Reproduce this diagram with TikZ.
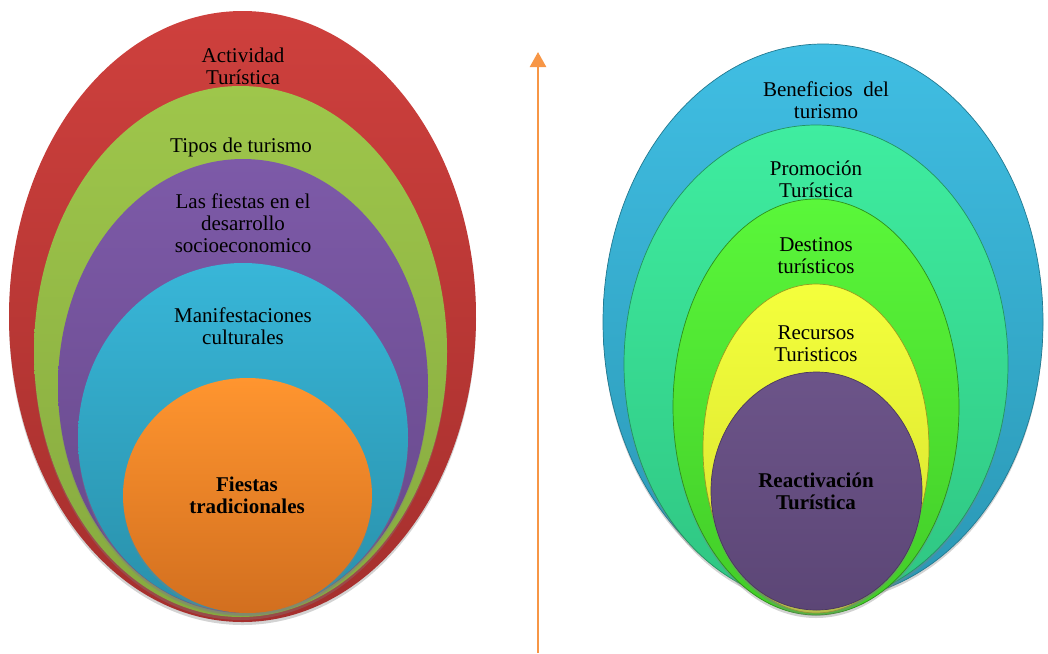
\documentclass[tikz,border=0pt]{standalone}
\usepackage{fontspec}
\setmainfont{Liberation Serif}
\usetikzlibrary{shapes.geometric,shadows,arrows.meta}
\definecolor{redT}{HTML}{CE403D}\definecolor{redB}{HTML}{A52F2D}
\definecolor{grnT}{HTML}{9EC64B}\definecolor{grnB}{HTML}{86A93F}
\definecolor{purT}{HTML}{7D5AA8}\definecolor{purB}{HTML}{664889}
\definecolor{bluT}{HTML}{38B6D8}\definecolor{bluB}{HTML}{2990AA}
\definecolor{orgT}{HTML}{FF952F}\definecolor{orgB}{HTML}{D26F1F}
\definecolor{rbT}{HTML}{40BEE3}\definecolor{rbB}{HTML}{2A97B4}
\definecolor{tlT}{HTML}{3FEDA0}\definecolor{tlB}{HTML}{2FC582}
\definecolor{lgT}{HTML}{5AF73A}\definecolor{lgB}{HTML}{42CC28}
\definecolor{ylT}{HTML}{F4FF3C}\definecolor{ylB}{HTML}{D6E02E}
\definecolor{ppT}{HTML}{6C5489}\definecolor{ppB}{HTML}{5C4676}
\definecolor{arrowc}{HTML}{F79646}
\tikzset{
  ring/.style n args={2}{ellipse, inner sep=0pt, top color=#1, bottom color=#2,
    drop shadow={opacity=0.35, shadow xshift=0pt, shadow yshift=-3pt}},
  rring/.style n args={3}{ring={#1}{#2}, draw=#3, line width=0.7pt},
  lbl/.style={align=center, font=\fontsize{21}{22}\selectfont, inner sep=0pt},
  blbl/.style={lbl, font=\fontsize{21}{22}\selectfont\bfseries}
}
\begin{document}
\begin{tikzpicture}[x=1pt,y=-1pt]
\useasboundingbox (0,0) rectangle (1048,653);
% left group
\node[ring={redT}{redB}, minimum width=467pt, minimum height=611pt] (red) at (242.5,316.5) {};
\node[ring={grnT}{grnB}, minimum width=413pt, minimum height=531pt] (green) at (240.5,351.5) {};
\node[ring={purT}{purB}, minimum width=370pt, minimum height=454pt] (purple) at (243,386) {};
\node[ring={bluT}{bluB}, minimum width=330pt, minimum height=349pt] (blue) at (243,437.5) {};
\node[ring={orgT}{orgB}, minimum width=249pt, minimum height=235pt] (orange) at (247.5,495.5) {};
\node[lbl] (t1) at (243,66) {Actividad\\Turística};
\node[lbl] (t2) at (241,147) {Tipos de turismo};
\node[lbl] (t3) at (243,223) {Las fiestas en el\\desarrollo\\socioeconomico};
\node[lbl] (t4) at (243,326) {Manifestaciones\\culturales};
\node[blbl] (t5) at (247,495) {Fiestas\\tradicionales};
% arrow
\coordinate (abot) at (538,653);
\coordinate (atop) at (538,52);
\draw[arrowc, line width=2.4pt, -{Triangle[length=15pt,width=16pt]}] (abot) -- (atop);
% right group
\node[rring={rbT}{rbB}{rbB!80!black}, minimum width=440pt, minimum height=556pt] (rblue) at (823,322) {};
\node[rring={tlT}{tlB}{tlB!75!black}, minimum width=384pt, minimum height=478pt] (teal) at (816,364) {};
\node[rring={lgT}{lgB}{lgB!70!black}, minimum width=286pt, minimum height=416pt] (lgreen) at (816,407) {};
\node[rring={ylT}{ylB}{ylB!70!black}, minimum width=226pt, minimum height=329pt] (yellow) at (816,448.5) {};
\node[rring={ppT}{ppB}{ppB!80!black}, minimum width=211pt, minimum height=238pt] (rpurple) at (816.5,491) {};
\node[lbl] (r1) at (826,100) {Beneficios\ \ del\\turismo};
\node[lbl] (r2) at (816,179.5) {Promoción\\Turística};
\node[lbl] (r3) at (816,256) {Destinos\\turísticos};
\node[lbl] (r4) at (816,343.5) {Recursos\\Turisticos};
\node[blbl] (r5) at (816,491.5) {Reactivación\\Turística};
\end{tikzpicture}
\end{document}
